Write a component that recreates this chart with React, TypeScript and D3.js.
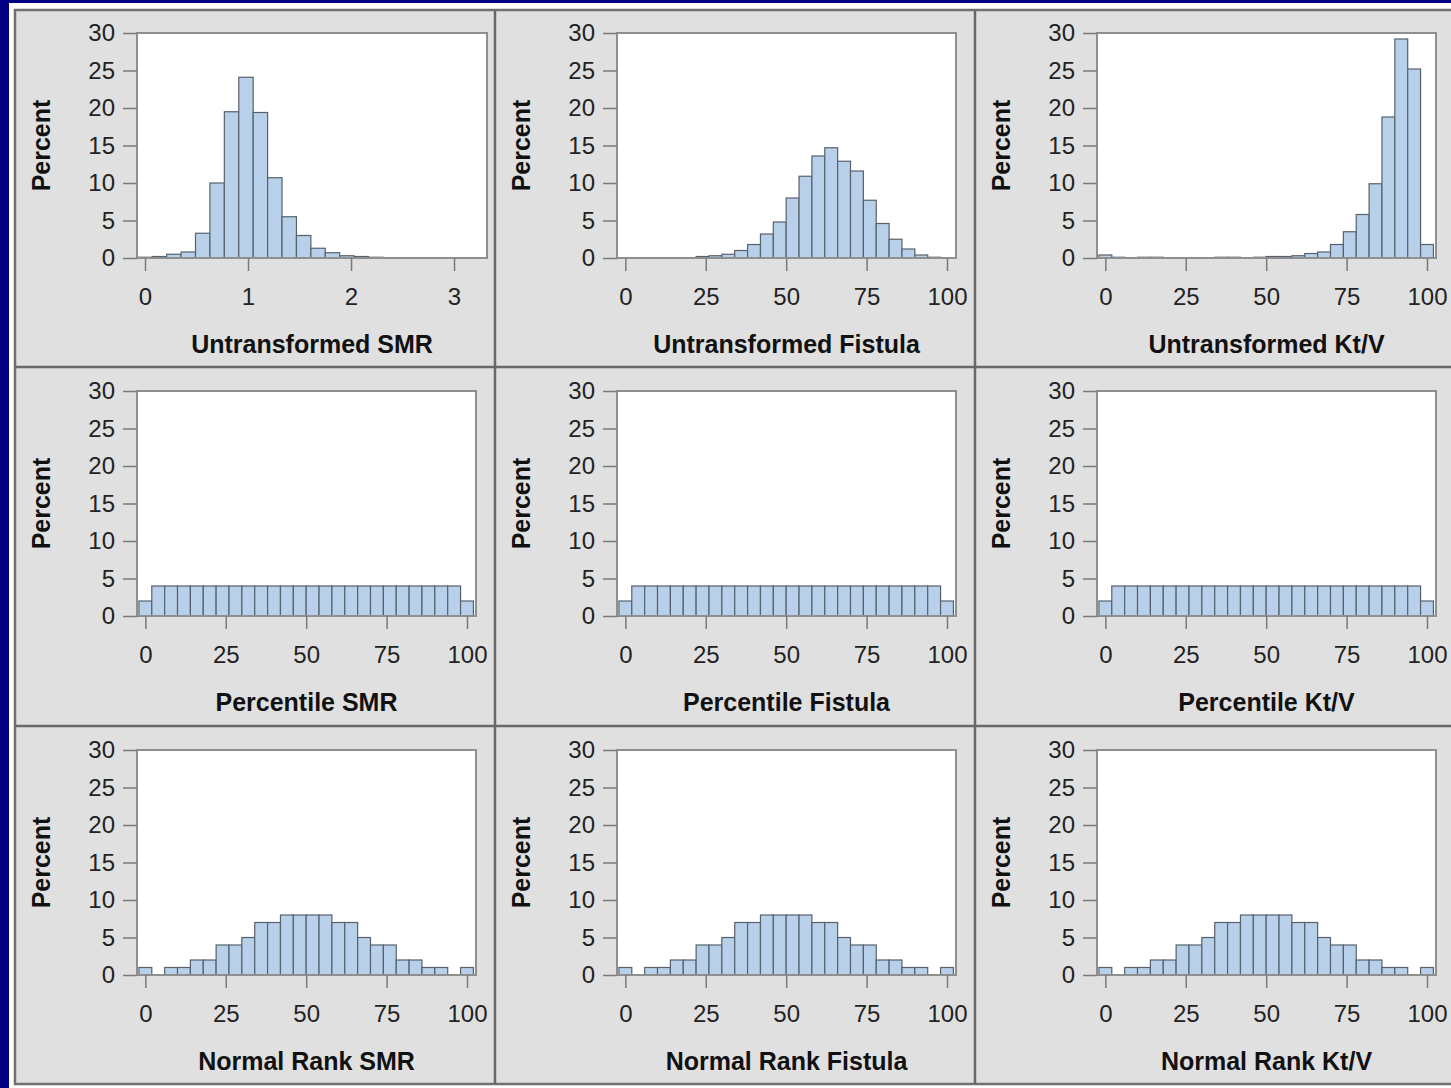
import React, { useEffect, useRef } from 'react';
import * as d3 from 'd3';

// bin midpoints
const smrBins = [0, 0.14, 0.28, 0.42, 0.56, 0.7, 0.84, 0.98, 1.12, 1.26, 1.4, 1.54, 1.68, 1.82, 1.96, 2.1, 2.24, 2.38, 2.52, 2.66, 2.8, 2.94, 3.08, 3.22];
const pctBins = [0, 4, 8, 12, 16, 20, 24, 28, 32, 36, 40, 44, 48, 52, 56, 60, 64, 68, 72, 76, 80, 84, 88, 92, 96, 100];

// percent of facilities per bin
const untransformedSmr = [0.1, 0.2, 0.5, 0.8, 3.3, 10.0, 19.5, 24.1, 19.4, 10.7, 5.5, 3.0, 1.3, 0.7, 0.3, 0.2, 0.1, 0.05, 0.05, 0, 0.05, 0, 0.05, 0.05];
const untransformedFistula = [0, 0, 0, 0, 0, 0.05, 0.2, 0.3, 0.5, 1.0, 1.8, 3.2, 4.8, 8.0, 10.9, 13.6, 14.7, 12.9, 11.6, 7.7, 4.6, 2.5, 1.2, 0.4, 0.1, 0];
const untransformedKtv = [0.4, 0.1, 0, 0.1, 0.1, 0, 0.05, 0, 0.05, 0.1, 0.1, 0, 0.1, 0.2, 0.2, 0.3, 0.6, 0.8, 1.8, 3.5, 5.8, 9.9, 18.8, 29.2, 25.2, 1.8];
const percentileSmr = [2, 4, 4, 4, 4, 4, 4, 4, 4, 4, 4, 4, 4, 4, 4, 4, 4, 4, 4, 4, 4, 4, 4, 4, 4, 2];
const percentileFistula = [2, 4, 4, 4, 4, 4, 4, 4, 4, 4, 4, 4, 4, 4, 4, 4, 4, 4, 4, 4, 4, 4, 4, 4, 4, 2];
const percentileKtv = [2, 4, 4, 4, 4, 4, 4, 4, 4, 4, 4, 4, 4, 4, 4, 4, 4, 4, 4, 4, 4, 4, 4, 4, 4, 2];
const normalRankSmr = [1, 0, 1, 1, 2, 2, 4, 4, 5, 7, 7, 8, 8, 8, 8, 7, 7, 5, 4, 4, 2, 2, 1, 1, 0, 1];
const normalRankFistula = [1, 0, 1, 1, 2, 2, 4, 4, 5, 7, 7, 8, 8, 8, 8, 7, 7, 5, 4, 4, 2, 2, 1, 1, 0, 1];
const normalRankKtv = [1, 0, 1, 1, 2, 2, 4, 4, 5, 7, 7, 8, 8, 8, 8, 7, 7, 5, 4, 4, 2, 2, 1, 1, 0, 1];

const smrTicks = [0, 1, 2, 3];
const pctTicks = [0, 25, 50, 75, 100];
const percentTicks = [0, 5, 10, 15, 20, 25, 30];

const W = 1451;
const H = 1088;
const colX = [137, 617, 1097];
const rowY = [33, 391, 750];
const PLOT_H = 225;
const FONT = '"Liberation Sans", Arial, sans-serif';

const pctDomain = [-2.6, 102.8];

const panels = [
  { row: 0, col: 0, label: 'Untransformed SMR', bins: smrBins, values: untransformedSmr, binW: 0.14, domain: [-0.078, 3.32], ticks: smrTicks, width: 350 },
  { row: 0, col: 1, label: 'Untransformed Fistula', bins: pctBins, values: untransformedFistula, binW: 4, domain: pctDomain, ticks: pctTicks, width: 339 },
  { row: 0, col: 2, label: 'Untransformed Kt/V', bins: pctBins, values: untransformedKtv, binW: 4, domain: pctDomain, ticks: pctTicks, width: 339 },
  { row: 1, col: 0, label: 'Percentile SMR', bins: pctBins, values: percentileSmr, binW: 4, domain: pctDomain, ticks: pctTicks, width: 339 },
  { row: 1, col: 1, label: 'Percentile Fistula', bins: pctBins, values: percentileFistula, binW: 4, domain: pctDomain, ticks: pctTicks, width: 339 },
  { row: 1, col: 2, label: 'Percentile Kt/V', bins: pctBins, values: percentileKtv, binW: 4, domain: pctDomain, ticks: pctTicks, width: 339 },
  { row: 2, col: 0, label: 'Normal Rank SMR', bins: pctBins, values: normalRankSmr, binW: 4, domain: pctDomain, ticks: pctTicks, width: 339 },
  { row: 2, col: 1, label: 'Normal Rank Fistula', bins: pctBins, values: normalRankFistula, binW: 4, domain: pctDomain, ticks: pctTicks, width: 339 },
  { row: 2, col: 2, label: 'Normal Rank Kt/V', bins: pctBins, values: normalRankKtv, binW: 4, domain: pctDomain, ticks: pctTicks, width: 339 },
];

const App = () => {
  const svgRef = useRef<SVGSVGElement>(null);

  useEffect(() => {
    const svg = d3.select(svgRef.current);
    svg.selectAll('*').remove();

    // slide background + frame
    svg.append('rect').attr('width', W).attr('height', H).attr('fill', '#000080');
    svg.append('rect').attr('x', 9).attr('y', 3).attr('width', W).attr('height', H).attr('fill', '#ffffff');
    svg.append('rect')
      .attr('x', 15).attr('y', 10).attr('width', W).attr('height', 1074)
      .attr('fill', '#e0e0e0').attr('stroke', '#707070').attr('stroke-width', 2.5);

    // cell dividers
    [495, 975].forEach(x => {
      svg.append('line').attr('x1', x).attr('x2', x).attr('y1', 10).attr('y2', 1084)
        .attr('stroke', '#686868').attr('stroke-width', 2.5);
    });
    [367, 726].forEach(y => {
      svg.append('line').attr('x1', 15).attr('x2', W).attr('y1', y).attr('y2', y)
        .attr('stroke', '#686868').attr('stroke-width', 2.5);
    });

    panels.forEach(p => {
      const left = colX[p.col];
      const top = rowY[p.row];
      const x = d3.scaleLinear().domain(p.domain).range([0, p.width]);
      const y = d3.scaleLinear().domain([0, 30]).range([PLOT_H, 0]);

      const g = svg.append('g').attr('transform', `translate(${left},${top})`);

      g.append('rect').attr('width', p.width).attr('height', PLOT_H).attr('fill', '#ffffff');

      g.selectAll('rect.bar')
        .data(p.bins.map((b, i) => ({ mid: b, v: p.values[i] })).filter(d => d.v > 0))
        .join('rect')
        .attr('class', 'bar')
        .attr('x', d => x(d.mid - p.binW / 2))
        .attr('width', d => x(d.mid + p.binW / 2) - x(d.mid - p.binW / 2))
        .attr('y', d => y(d.v))
        .attr('height', d => PLOT_H - y(d.v))
        .attr('fill', '#b9d0ea')
        .attr('stroke', '#56616c')
        .attr('stroke-width', 1.2);

      g.append('rect').attr('width', p.width).attr('height', PLOT_H)
        .attr('fill', 'none').attr('stroke', '#8f8f8f').attr('stroke-width', 2);

      const yAxis = g.append('g')
        .call(d3.axisLeft(y).tickValues(percentTicks).tickSize(14).tickPadding(8));
      const xAxis = g.append('g').attr('transform', `translate(0,${PLOT_H})`)
        .call(d3.axisBottom(x).tickValues(p.ticks).tickSize(13).tickPadding(17).tickFormat(d3.format('d')));

      [yAxis, xAxis].forEach(a => {
        a.select('.domain').remove();
        a.selectAll('line').attr('stroke', '#7a7a7a').attr('stroke-width', 1.5);
        a.selectAll('text').attr('font-family', FONT).attr('font-size', 24).attr('fill', '#222');
      });

      g.append('text')
        .attr('transform', `translate(-87,${PLOT_H / 2}) rotate(-90)`)
        .attr('text-anchor', 'middle')
        .attr('font-family', FONT).attr('font-size', 25).attr('font-weight', 'bold').attr('fill', '#111')
        .text('Percent');

      g.append('text')
        .attr('x', p.width / 2).attr('y', PLOT_H + 95)
        .attr('text-anchor', 'middle')
        .attr('font-family', FONT).attr('font-size', 25).attr('font-weight', 'bold').attr('fill', '#111')
        .text(p.label);
    });
  }, []);

  return (
    <div>
      <svg ref={svgRef} width={W} height={H} style={{ position: 'absolute', left: 0, top: 0 }} />
    </div>
  );
};

export default App;
